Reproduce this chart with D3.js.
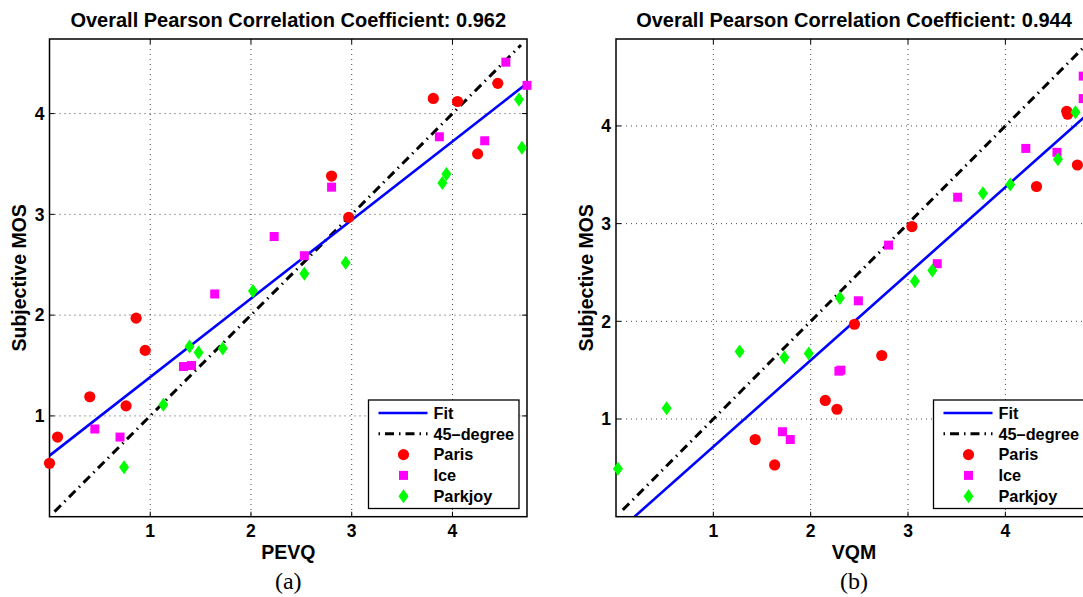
<!DOCTYPE html>
<html>
<head>
<meta charset="utf-8">
<script src="https://cdn.jsdelivr.net/npm/d3@7"></script>
<style>
  body { margin: 0; background: #fff; }
  text { font-family: "Liberation Sans", Arial, Helvetica, sans-serif; font-weight: bold; fill: #000; }
</style>
</head>
<body>
<div id="chart"></div>
<script>
var width = 1083,
  height = 597;

// subjective MOS, shared by both panels
var parisMOS   = [0.53, 0.79, 1.19, 1.10, 1.97, 1.65, 3.38, 2.97, 4.15, 4.12, 4.30, 3.60];
var iceMOS     = [0.87, 0.79, 1.49, 1.50, 2.21, 2.78, 2.59, 3.27, 3.77, 3.73, 4.51, 4.28];
var parkjoyMOS = [0.49, 1.11, 1.69, 1.63, 1.67, 2.24, 2.41, 2.52, 3.31, 3.40, 4.14, 3.66];

// objective scores
var parisPEVQ   = [0.00, 0.08, 0.40, 0.76, 0.86, 0.95, 2.80, 2.97, 3.81, 4.05, 4.45, 4.25];
var icePEVQ     = [0.45, 0.70, 1.33, 1.41, 1.64, 2.23, 2.53, 2.80, 3.87, 4.32, 4.53, 4.74];
var parkjoyPEVQ = [0.74, 1.13, 1.39, 1.48, 1.72, 2.02, 2.53, 2.94, 3.90, 3.94, 4.66, 4.69];

var parisVQM   = [1.63, 1.43, 2.15, 2.27, 2.45, 2.73, 4.32, 3.04, 4.63, 4.64, 4.86, 4.74];
var iceVQM     = [1.71, 1.79, 2.29, 2.31, 2.49, 2.80, 3.30, 3.51, 4.21, 4.53, 4.80, 4.80];
var parkjoyVQM = [0.02, 0.52, 1.27, 1.73, 1.98, 2.30, 3.07, 3.25, 3.77, 4.05, 4.72, 4.54];

// line end points
var fitPEVQ = [[0, 0.606], [4.74, 4.30]];
var fitVQM  = [[0.19, 0], [4.89, 4.16]];
var diagPEVQ = [[0.05, 0.05], [4.68, 4.68]];
var diagVQM  = [[0.07, 0.07], [4.89, 4.89]];

var tickValues = [1, 2, 3, 4];
var legendLabels = ["Fit", "45\u2013degree", "Paris", "Ice", "Parkjoy"];

var panels = [
  { title: "Overall Pearson Correlation Coefficient: 0.962", xLabel: "PEVQ", tag: "(a)",
    left: 49.5, right: 527, top: 39, bottom: 516.7, max: 4.74,
    paris: parisPEVQ, ice: icePEVQ, parkjoy: parkjoyPEVQ, fit: fitPEVQ, diag: diagPEVQ },
  { title: "Overall Pearson Correlation Coefficient: 0.944", xLabel: "VQM", tag: "(b)",
    left: 616, right: 1092, top: 39, bottom: 516.7, max: 4.89,
    paris: parisVQM, ice: iceVQM, parkjoy: parkjoyVQM, fit: fitVQM, diag: diagVQM }
];

var svg = d3.select("#chart").append("svg")
  .attr("width", width)
  .attr("height", height);

function diamond(g) {
  g.append("path").attr("d", "M0,-7L5,0L0,7L-5,0Z").attr("fill", "#00ff00");
}
function square(g) {
  g.append("rect").attr("x", -4.5).attr("y", -4.5).attr("width", 9).attr("height", 9).attr("fill", "#ff00ff");
}
function circle(g) {
  g.append("circle").attr("r", 5.6).attr("fill", "#ff0000");
}

panels.forEach(function(p, i) {
  var x = d3.scaleLinear().domain([0, p.max]).range([p.left, p.right]);
  var y = d3.scaleLinear().domain([0, p.max]).range([p.bottom, p.top]);
  var g = svg.append("g");
  var cx = (p.left + p.right) / 2;

  var clipId = "clip" + i;
  g.append("clipPath").attr("id", clipId).append("rect")
    .attr("x", p.left).attr("y", p.top)
    .attr("width", p.right - p.left).attr("height", p.bottom - p.top);

  // grid
  g.selectAll("line.gx").data(tickValues).enter().append("line")
    .attr("x1", function(d) { return x(d); }).attr("x2", function(d) { return x(d); })
    .attr("y1", p.top).attr("y2", p.bottom)
    .attr("stroke", "#333").attr("stroke-width", 0.9).attr("stroke-dasharray", "1,4");
  g.selectAll("line.gy").data(tickValues).enter().append("line")
    .attr("y1", function(d) { return y(d); }).attr("y2", function(d) { return y(d); })
    .attr("x1", p.left).attr("x2", p.right)
    .attr("stroke", "#333").attr("stroke-width", 0.9).attr("stroke-dasharray", "1,4");

  // ticks on all four sides, pointing inward
  tickValues.forEach(function(t) {
    g.append("line").attr("x1", x(t)).attr("x2", x(t)).attr("y1", p.bottom).attr("y2", p.bottom - 5).attr("stroke", "#000");
    g.append("line").attr("x1", x(t)).attr("x2", x(t)).attr("y1", p.top).attr("y2", p.top + 5).attr("stroke", "#000");
    g.append("line").attr("y1", y(t)).attr("y2", y(t)).attr("x1", p.left).attr("x2", p.left + 5).attr("stroke", "#000");
    g.append("line").attr("y1", y(t)).attr("y2", y(t)).attr("x1", p.right).attr("x2", p.right - 5).attr("stroke", "#000");
  });

  // tick labels
  g.selectAll("text.xt").data(tickValues).enter().append("text")
    .attr("x", function(d) { return x(d); }).attr("y", 537)
    .attr("text-anchor", "middle").style("font-size", "17.5px")
    .text(function(d) { return d; });
  g.selectAll("text.yt").data(tickValues).enter().append("text")
    .attr("x", p.left - 5).attr("y", function(d) { return y(d) + 6.3; })
    .attr("text-anchor", "end").style("font-size", "17.5px")
    .text(function(d) { return d; });

  var line = d3.line().x(function(d) { return x(d[0]); }).y(function(d) { return y(d[1]); });

  g.append("path").datum(p.diag)
    .attr("clip-path", "url(#" + clipId + ")")
    .attr("d", line).attr("fill", "none")
    .attr("stroke", "#000").attr("stroke-width", 3)
    .attr("stroke-dasharray", "9,5,1.5,5");
  g.append("path").datum(p.fit)
    .attr("clip-path", "url(#" + clipId + ")")
    .attr("d", line).attr("fill", "none")
    .attr("stroke", "#0000ff").attr("stroke-width", 2.6);

  // frame
  g.append("rect")
    .attr("x", p.left).attr("y", p.top)
    .attr("width", p.right - p.left).attr("height", p.bottom - p.top)
    .attr("fill", "none").attr("stroke", "#000").attr("stroke-width", 1.5);

  // markers
  var pts = g.append("g");
  p.paris.forEach(function(v, k) {
    circle(pts.append("g").attr("transform", "translate(" + x(v) + "," + y(parisMOS[k]) + ")"));
  });
  p.ice.forEach(function(v, k) {
    square(pts.append("g").attr("transform", "translate(" + x(v) + "," + y(iceMOS[k]) + ")"));
  });
  p.parkjoy.forEach(function(v, k) {
    diamond(pts.append("g").attr("transform", "translate(" + x(v) + "," + y(parkjoyMOS[k]) + ")"));
  });

  // title and labels
  g.append("text").attr("x", cx).attr("y", 26.5)
    .attr("text-anchor", "middle").style("font-size", "20px").text(p.title);
  g.append("text").attr("x", cx).attr("y", 558.5)
    .attr("text-anchor", "middle").style("font-size", "19.5px").text(p.xLabel);
  g.append("text")
    .attr("transform", "translate(" + (p.left - 23.5) + "," + ((p.top + p.bottom) / 2) + ") rotate(-90)")
    .attr("text-anchor", "middle").style("font-size", "19.5px").text("Subjective MOS");
  g.append("text").attr("x", cx).attr("y", 589)
    .attr("text-anchor", "middle")
    .style("font-family", "'Liberation Serif', 'Times New Roman', serif")
    .style("font-weight", "normal").style("font-size", "24px")
    .text(p.tag);

  // legend
  var lx = p.right - 8 - 150.5, ly = 400;
  var lg = g.append("g").attr("transform", "translate(" + lx + "," + ly + ")");
  lg.append("rect").attr("width", 150.5).attr("height", 108.5)
    .attr("fill", "#fff").attr("stroke", "#000").attr("stroke-width", 1.3);
  legendLabels.forEach(function(label, k) {
    var ry = 13 + k * 20.8;
    var row = lg.append("g").attr("transform", "translate(0," + ry + ")");
    if (k === 0) {
      row.append("line").attr("x1", 10).attr("x2", 59).attr("stroke", "#0000ff").attr("stroke-width", 2.6);
    } else if (k === 1) {
      row.append("line").attr("x1", 10).attr("x2", 59).attr("stroke", "#000").attr("stroke-width", 3)
        .attr("stroke-dasharray", "1.5,5,9,5");
    } else {
      var m = row.append("g").attr("transform", "translate(35,0)");
      [null, null, circle, square, diamond][k](m);
    }
    row.append("text").attr("x", 65).attr("y", 5.8).style("font-size", "16.3px").text(label);
  });
});
</script>
</body>
</html>
